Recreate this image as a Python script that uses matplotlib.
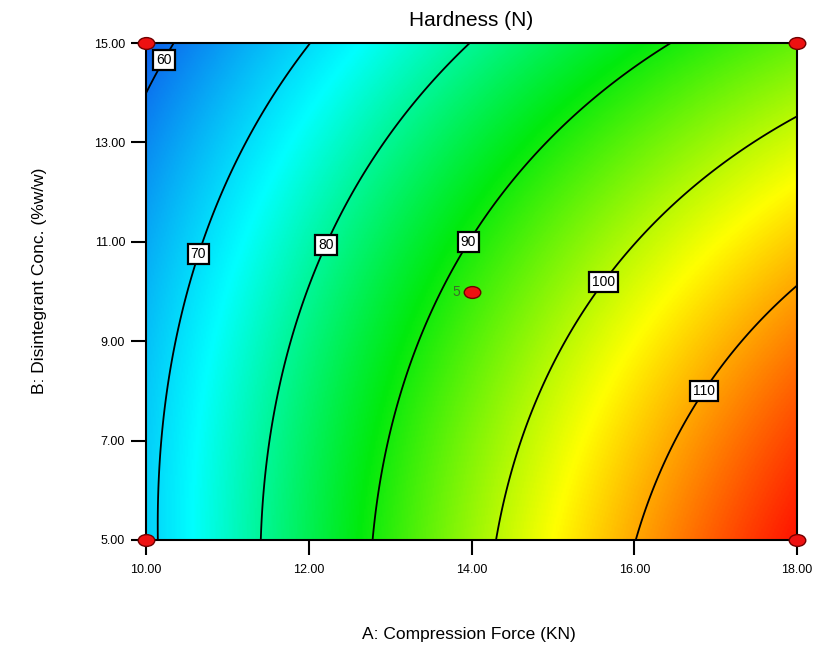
import numpy as np
import matplotlib
matplotlib.use('Agg')
import matplotlib.pyplot as plt
from matplotlib.colors import LinearSegmentedColormap
from matplotlib.markers import MarkerStyle
from matplotlib.transforms import Affine2D

plt.rcParams['font.family'] = ['Liberation Sans', 'DejaVu Sans']

# factor ranges, actual units
force_range = [10.0, 18.0]     # A: compression force (KN)
disint_range = [5.0, 15.0]     # B: disintegrant conc. (%w/w)

# quadratic model in coded units: b0, A, B, AB, A^2, B^2
coef_values = [92.1, 22.0, -9.0, -3.5, -3.8, -3.0]

contour_levels = [60, 70, 80, 90, 100, 110]
label_spots = [(10.17, 14.7), (10.60, 10.77), (12.15, 10.98),
               (13.89, 11.06), (15.55, 10.27), (16.77, 8.10)]

# design points (factorial corners + centre)
design_force = [10, 10, 18, 18, 14]
design_disint = [5, 15, 5, 15, 10]
center_reps = 5

x_ticks = [10, 12, 14, 16, 18]
y_ticks = [5, 7, 9, 11, 13, 15]


def hardness(a, b):
    b0, b1, b2, b12, b11, b22 = coef_values
    x1 = (a - np.mean(force_range)) / (np.ptp(force_range) / 2)
    x2 = (b - np.mean(disint_range)) / (np.ptp(disint_range) / 2)
    return b0 + b1 * x1 + b2 * x2 + b12 * x1 * x2 + b11 * x1 ** 2 + b22 * x2 ** 2


a = np.linspace(force_range[0], force_range[1], 400)
b = np.linspace(disint_range[0], disint_range[1], 400)
A, B = np.meshgrid(a, b)
Z = hardness(A, B)

# blue -> cyan -> green -> yellow -> red
cmap = LinearSegmentedColormap.from_list(
    'de', [(0.05, 0.38, 0.93), (0.0, 1.0, 1.0), (0.0, 0.92, 0.05),
           (1.0, 1.0, 0.0), (1.0, 0.08, 0.0)])

fig = plt.figure(figsize=(8.15, 6.5), dpi=100)
ax = fig.add_axes([146 / 815, 110 / 650, 651 / 815, 497 / 650])

ax.imshow(Z, origin='lower', cmap=cmap, aspect='auto', interpolation='bilinear',
          extent=[force_range[0], force_range[1], disint_range[0], disint_range[1]],
          vmin=Z.min(), vmax=Z.max())

cs = ax.contour(A, B, Z, levels=contour_levels, colors='black', linewidths=1.3)
labels = ax.clabel(cs, contour_levels, inline=False, fmt='%d', fontsize=10,
                   manual=label_spots, colors='black')
for t in labels:
    t.set_rotation(0)
    t.set_bbox(dict(boxstyle='square,pad=0.22', facecolor='white',
                    edgecolor='black', linewidth=1.6))
    t.set_zorder(6)

pt = MarkerStyle('o', transform=Affine2D().scale(1.4, 1.0))
ax.plot(design_force, design_disint, linestyle='none', marker=pt, markersize=8.5,
        markerfacecolor='#ee1111', markeredgecolor='#700000', markeredgewidth=1.0,
        clip_on=False, zorder=7)
ax.annotate(str(center_reps), (design_force[-1], design_disint[-1]),
            xytext=(-8, 0), textcoords='offset points', ha='right', va='center',
            color='#3a6e2a', fontsize=10)

ax.set_xlim(force_range)
ax.set_ylim(disint_range)
ax.set_xticks(x_ticks)
ax.set_yticks(y_ticks)
ax.set_xticklabels(['%.2f' % v for v in x_ticks])
ax.set_yticklabels(['%.2f' % v for v in y_ticks])
ax.tick_params(direction='out', length=11, width=1.5, labelsize=9, pad=4)
ax.tick_params(axis='x', pad=6)
for s in ax.spines.values():
    s.set_linewidth(1.5)

fig.text(0.5785, 1 - 21 / 650, 'Hardness (N)', ha='center', va='center', fontsize=15)
fig.text(0.575, 1 - 635 / 650, 'A: Compression Force (KN)', ha='center', va='center',
         fontsize=12.5)
fig.text(40 / 815, 1 - 281 / 650, 'B: Disintegrant Conc. (%w/w)', ha='center',
         va='center', rotation=90, fontsize=12.5)

fig.savefig('out.png', dpi=100)
